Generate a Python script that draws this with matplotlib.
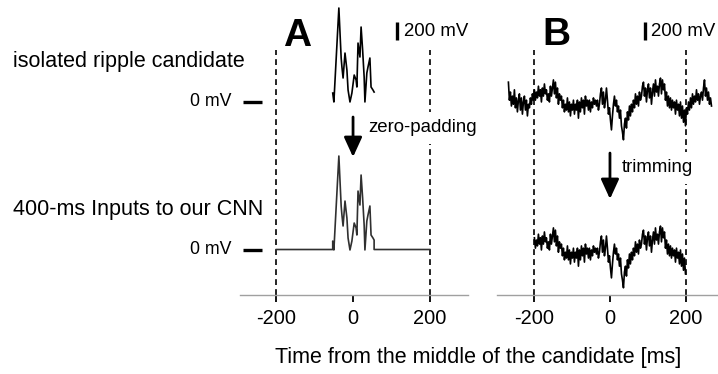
import numpy as np
import matplotlib
matplotlib.use("Agg")
import matplotlib.pyplot as plt

plt.rcParams["font.family"] = ["Liberation Sans", "DejaVu Sans"]
FS = 15.5        # row labels and axis label
FS_SMALL = 13.4  # annotations inside the panels
FS_TICK = 14.4

# ---------------------------------------------
# Data
# ---------------------------------------------
# isolated ripple candidate (panel A): time [ms], amplitude [mV]
ripple_t = [-53, -50, -37, -31, -29, -26, -21, -16, -13, -8, -3, 3, 8, 10,
            13, 18, 21, 25, 29, 31, 36, 39, 44, 47, 52, 55]
ripple_mv = [94, -5, 1038, 483, 383, 261, 538, 350, 128, -5, 94, 294, 239, 161,
             649, 494, 827, 572, 272, -5, 316, 383, 483, 161, 128, 105]

# raw LFP around the candidate (panel B), one sample every lfp_step ms
lfp_start = -267.0
lfp_step = 2.63
lfp_mv = [215, 15, 105, -50, 60, -30, 130, -70, 40, -115, 15, 85, -95, 40, -140,
          -5, 60, -95, 15, -160, -30, -70, 40, -30, 85, 15, 130, 15, 105, 40,
          170, 60, 130, -5, 150, 60, 195, 85, 130, 15, 85, -5, 170, 60, 150,
          240, 85, 215, 40, 150, -30, 85, 15, 60, -70, 15, -115, -30, -95, 40,
          -115, -5, -160, -30, -95, 15, -140, -30, -95, 15, -185, -5, -115, 40,
          -70, 15, -140, 60, -50, 15, -95, 15, -115, -5, -70, 40, -30, 15, -50,
          15, -95, -30, 85, 150, -30, 105, -70, 15, 150, 15, -140, -70, -205,
          -315, -160, -30, 60, -50, 15, -115, -50, -185, -95, -270, -340, -425,
          -250, -185, -295, -115, -205, -50, -160, -30, -115, 15, -70, 85, -30,
          60, -50, 105, 15, 60, 170, 215, 60, 150, -5, 130, 195, 40, 150, -30,
          105, 195, 60, 240, 105, 170, 60, 195, 260, 85, 240, 130, 195, 15, 105,
          -50, 60, -70, 40, -95, 15, -70, -5, -140, 15, -95, -30, -160, -5,
          -185, -50, -230, -95, -270, -70, -140, -5, -95, 40, -70, 85, -30, 60,
          -5, 130, 15, 85, -30, 60, 105, 15, 150, 240, 60, 150, 15, 105, -30,
          40, -50]

window = (-200, 200)
xticks = [-200, 0, 200]
row_labels = ["isolated ripple candidate", "400-ms Inputs to our CNN"]
scale_bar_mv = 200

# ---------------------------------------------
# Layout (vertical axis is a shared mV scale)
# ---------------------------------------------
y_top = 3275          # axes height in mV
top_zero = 2148       # baseline of the upper traces
bottom_zero = 505     # baseline of the lower traces
guide_top = 2720      # top of the dashed window markers

ripple_t = np.array(ripple_t, dtype=float)
ripple_mv = np.array(ripple_mv, dtype=float)
lfp_mv = np.array(lfp_mv, dtype=float)
lfp_t = lfp_start + lfp_step * np.arange(len(lfp_mv))

# zero-padded candidate over the 400-ms window
pad_t = np.concatenate(([window[0], ripple_t[0]], ripple_t, [ripple_t[-1], window[1]]))
pad_mv = np.concatenate(([0, 0], ripple_mv, [0, 0]))

# trimmed LFP over the 400-ms window
keep = (lfp_t >= window[0]) & (lfp_t <= window[1])

fig = plt.figure(figsize=(7.18, 3.74), dpi=100)
ax_a = fig.add_axes([240 / 718, 79 / 374, 228 / 718, 295 / 374])
ax_b = fig.add_axes([497 / 718, 79 / 374, 221 / 718, 295 / 374])
ax_a.set_xlim(-295, 300)
ax_b.set_xlim(-297, 284)

for ax in (ax_a, ax_b):
    ax.set_ylim(0, y_top)
    for side in ("top", "left", "right"):
        ax.spines[side].set_visible(False)
    ax.spines["bottom"].set_color("#a0a0a0")
    ax.spines["bottom"].set_linewidth(1.0)
    ax.set_yticks([])
    ax.set_xticks(xticks)
    ax.set_xticklabels([str(v) for v in xticks])
    ax.tick_params(axis="x", direction="out", length=5, width=1.3, color="black",
                   labelsize=FS_TICK, pad=5)
    ax.patch.set_alpha(0)
    for xv in window:
        ax.plot([xv, xv], [0, guide_top], color="black", lw=1.2,
                ls=(0, (3.5, 2.5)), zorder=1)

# panel A: candidate and its zero-padded version
ax_a.plot(ripple_t, ripple_mv + top_zero, color="black", lw=1.2, zorder=2)
ax_a.plot(pad_t, pad_mv + bottom_zero, color="#303030", lw=1.2, zorder=2)

# panel B: raw LFP and its trimmed version
ax_b.plot(lfp_t, lfp_mv + top_zero, color="black", lw=1.2, zorder=2)
ax_b.plot(lfp_t[keep], lfp_mv[keep] + bottom_zero, color="black", lw=1.2, zorder=2)

# panel letters and scale bars
ax_a.text(-145, 2880, "A", fontsize=28, fontweight="bold", ha="center", va="center")
ax_b.text(-142, 2890, "B", fontsize=28, fontweight="bold", ha="center", va="center")
for ax, xs in ((ax_a, 115), (ax_b, 92)):
    ax.plot([xs, xs], [2830, 2830 + scale_bar_mv], color="black", lw=2.4,
            solid_capstyle="butt")
    ax.text(xs + 17, 2930, f"{scale_bar_mv} mV", fontsize=FS_SMALL,
            va="center", ha="left")

# arrows with labels
arrow_style = dict(arrowstyle="-|>,head_length=1.2,head_width=0.55",
                   mutation_scale=10, lw=2, color="black", shrinkA=0, shrinkB=0)
ax_a.annotate("", xy=(0, 1532), xytext=(0, 1976), arrowprops=arrow_style, zorder=5)
ax_b.annotate("", xy=(0, 1066), xytext=(0, 1576), arrowprops=arrow_style, zorder=5)
box = dict(boxstyle="square,pad=0.4", fc="white", ec="none")
ax_a.text(39, 1854, "zero-padding", fontsize=FS_SMALL, va="center", ha="left",
          bbox=box, zorder=4)
ax_b.text(32, 1410, "trimming", fontsize=FS_SMALL, va="center", ha="left",
          bbox=box, zorder=4)

# 0 mV baselines
for zero in (top_zero, bottom_zero):
    ax_a.plot([-288, -238], [zero, zero], color="black", lw=2.4,
              solid_capstyle="butt", clip_on=False)
    ax_a.text(-316, zero, "0 mV", fontsize=12.8, ha="right", va="center")

# row labels
fig.text(13 / 718, 1 - 62 / 374, row_labels[0], fontsize=FS, va="center", ha="left")
fig.text(13 / 718, 1 - 210 / 374, row_labels[1], fontsize=FS, va="center", ha="left")

fig.text(478 / 718, 1 - 358 / 374, "Time from the middle of the candidate [ms]",
         fontsize=FS, ha="center", va="center")

fig.savefig("out.png", dpi=100)
